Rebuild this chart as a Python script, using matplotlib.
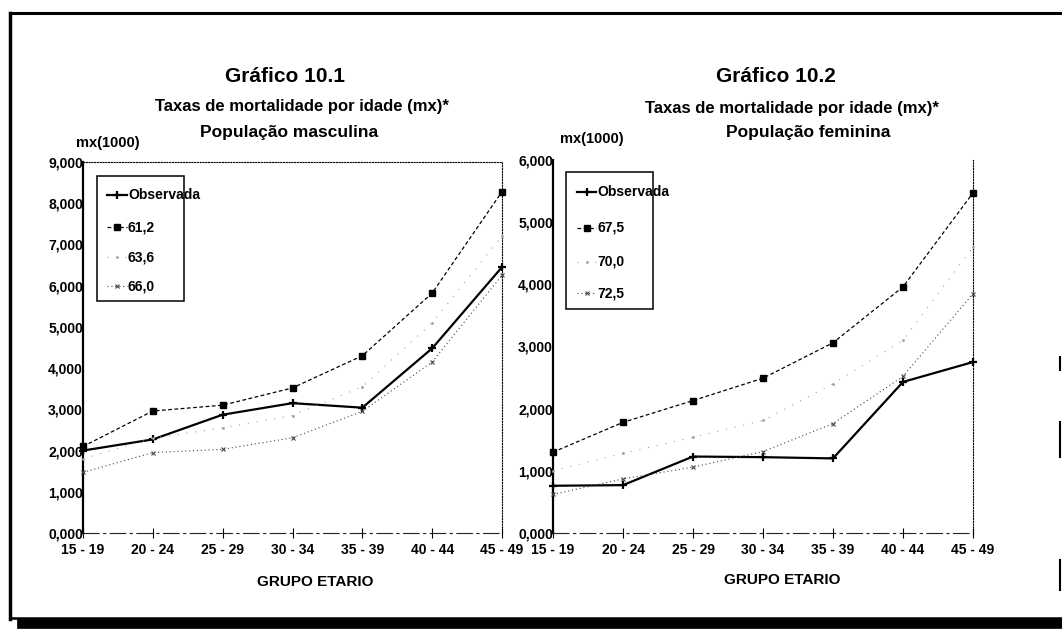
import matplotlib
matplotlib.use("Agg")
import matplotlib.pyplot as plt
from matplotlib.lines import Line2D
from matplotlib.patches import Rectangle
from matplotlib.transforms import ScaledTranslation

# ---------------- data ----------------
categories = ["15 - 19", "20 - 24", "25 - 29", "30 - 34", "35 - 39", "40 - 44", "45 - 49"]

male_observada = [2.00, 2.27, 2.87, 3.15, 3.04, 4.48, 6.45]
male_61_2 = [2.10, 2.96, 3.10, 3.52, 4.30, 5.82, 8.28]
male_63_6 = [1.80, 2.30, 2.55, 2.85, 3.55, 5.10, 7.20]
male_66_0 = [1.47, 1.95, 2.03, 2.31, 2.95, 4.15, 6.25]
male_labels = ["Observada", "61,2", "63,6", "66,0"]

female_observada = [0.76, 0.77, 1.23, 1.22, 1.20, 2.43, 2.75]
female_67_5 = [1.30, 1.78, 2.13, 2.49, 3.06, 3.96, 5.47]
female_70_0 = [1.00, 1.28, 1.54, 1.81, 2.40, 3.10, 4.60]
female_72_5 = [0.62, 0.87, 1.06, 1.31, 1.76, 2.52, 3.85]
female_labels = ["Observada", "67,5", "70,0", "72,5"]

W, H = 1062, 629
fig = plt.figure(figsize=(W / 100, H / 100), dpi=100)
fig.patch.set_facecolor("white")

FONT = "Liberation Sans"

def fx(px):
    return px / W

def fy(py):
    return 1 - py / H

styles = [
    dict(color="black", lw=1.6, ls="-", marker="+", ms=6, mew=1.6),
    dict(color="black", lw=0.9, ls=(0, (3, 2)), marker="s", ms=4.5, mec="black", mfc="black"),
    dict(color="#a0a0a0", lw=0.8, ls=(0, (1, 7)), marker=".", ms=2),
    dict(color="#444444", lw=0.8, ls=(0, (1, 2.5)), marker="x", ms=2.5, mew=0.8),
]

def make_axes(rect, ymax, series, labels, top_spine):
    ax = fig.add_axes(rect)
    x = list(range(len(categories)))
    for vals, lab, st in zip(series, labels, styles):
        ax.plot(x, vals, label=lab, clip_on=False, zorder=3, **st)
    ax.set_xlim(0, len(categories) - 1)
    ax.set_ylim(0, ymax)
    ax.set_yticks(range(0, ymax + 1))
    ax.set_yticklabels([f"{v:.3f}".replace(".", ",") for v in range(0, ymax + 1)],
                       fontfamily=FONT, fontweight="bold", fontsize=10)
    ax.set_xticks(x)
    ax.set_xticklabels(categories, fontfamily=FONT, fontweight="bold", fontsize=10)
    off = ScaledTranslation(9 / 100, 0, fig.dpi_scale_trans)
    for lbl in ax.get_xticklabels():
        lbl.set_transform(lbl.get_transform() + off)
    ax.tick_params(axis="y", length=0, pad=0)
    ax.tick_params(axis="x", length=7, direction="inout", width=0.8, pad=4)
    ax.spines["left"].set_linewidth(1.6)
    ax.spines["bottom"].set_linewidth(0.8)
    ax.spines["bottom"].set_linestyle((0, (14, 4, 2, 4)))
    ax.spines["bottom"].set_color("#222222")
    ax.spines["right"].set_linewidth(0.8)
    ax.spines["right"].set_linestyle((0, (1, 1.5)))
    ax.spines["top"].set_linewidth(0.8)
    ax.spines["top"].set_linestyle((0, (1, 1.5)))
    ax.spines["top"].set_visible(top_spine)
    return ax

axL = make_axes([fx(83), fy(533), fx(502) - fx(83), fy(162) - fy(533)], 9,
                [male_observada, male_61_2, male_63_6, male_66_0], male_labels, True)
axR = make_axes([fx(553), fy(533), fx(973) - fx(553), fy(160) - fy(533)], 6,
                [female_observada, female_67_5, female_70_0, female_72_5], female_labels, False)

# legends (manual boxes, like the original where text overflows the frame)
def legend_box(box, rows, hx0, hx1, tx, labels):
    x0, y0, x1, y1 = box
    fig.add_artist(Rectangle((fx(x0), fy(y1)), fx(x1) - fx(x0), fy(y0) - fy(y1),
                             transform=fig.transFigure, fill=False, ec="black", lw=1.1))
    for ry, lab, st in zip(rows, labels, styles):
        st2 = dict(st)
        st2["markevery"] = [1]
        fig.add_artist(Line2D([fx(hx0), fx((hx0 + hx1) / 2), fx(hx1)], [fy(ry)] * 3,
                              transform=fig.transFigure, **st2))
        fig.text(fx(tx), fy(ry), lab, ha="left", va="center", fontfamily=FONT,
                 fontweight="bold", fontsize=10)

legend_box((97, 176, 184, 301), [195, 227, 257, 286], 107, 127, 128, male_labels)
legend_box((566, 172, 653, 309), [192, 228, 262, 293], 577, 596, 597, female_labels)

# titles
def t(px, py, s, size, ha="center"):
    fig.text(fx(px), fy(py), s, ha=ha, va="center", fontfamily=FONT, fontweight="bold", fontsize=size)

t(285, 76, "Gráfico 10.1", 15)
t(302, 106, "Taxas de mortalidade por idade (mx)*", 12)
t(289, 133, "População masculina", 12.5)
t(108, 143, "mx(1000)", 10.5)
t(776, 76, "Gráfico 10.2", 15)
t(792, 108, "Taxas de mortalidade por idade (mx)*", 12)
t(808, 133, "População feminina", 12.5)
t(592, 139, "mx(1000)", 10.5)
t(315, 582, "GRUPO ETARIO", 11)
t(782, 580, "GRUPO ETARIO", 11)

# outer frame (scanned border)
fig.add_artist(Line2D([fx(10), fx(1062)], [fy(13), fy(13)], color="black", lw=2.2))
fig.add_artist(Line2D([fx(10), fx(10)], [fy(13), fy(619)], color="black", lw=2.5))
fig.add_artist(Line2D([fx(10), fx(1062)], [fy(618), fy(618)], color="black", lw=1.8))
fig.add_artist(Line2D([fx(22), fx(1062)], [fy(624), fy(624)], color="black", lw=7))
for ya, yb in [(357, 370), (422, 457), (560, 590)]:
    fig.add_artist(Line2D([fx(1060), fx(1060)], [fy(ya), fy(yb)], color="black", lw=1.5))

fig.savefig("out.png", dpi=100, facecolor="white")
